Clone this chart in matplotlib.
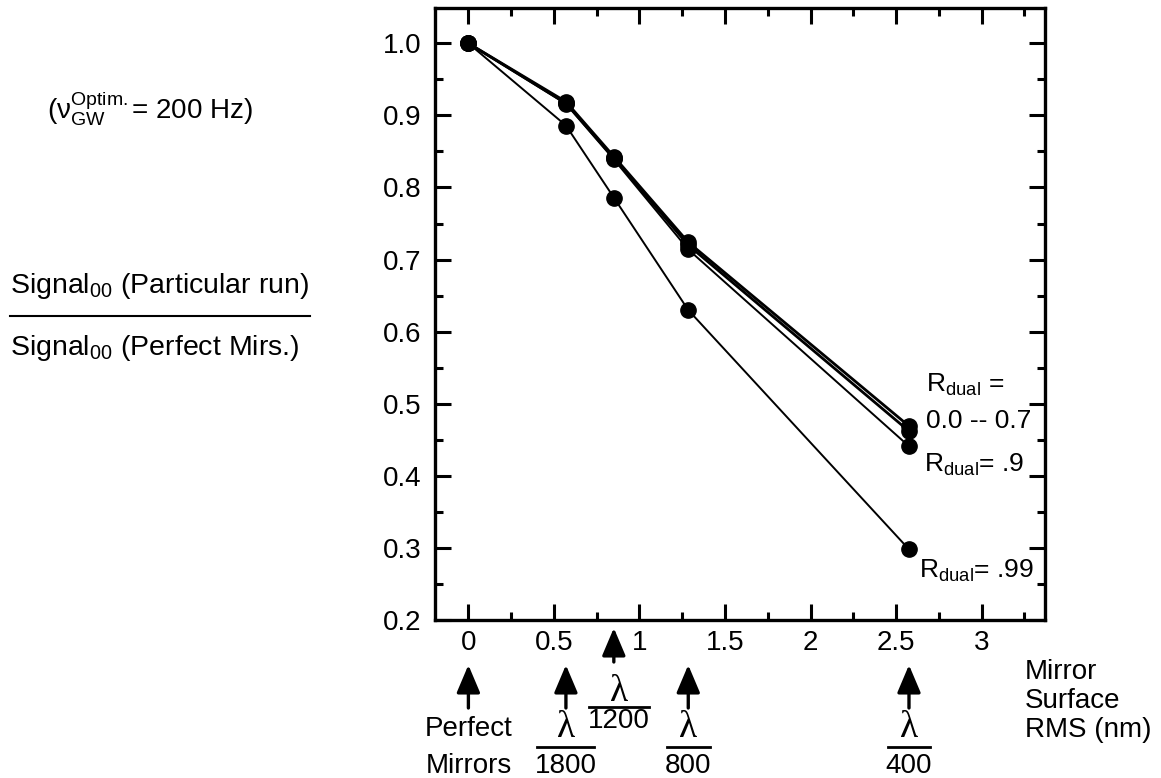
"""Signal ratio vs mirror surface RMS for several R_dual values."""
import matplotlib
matplotlib.use("Agg")
import matplotlib.pyplot as plt
from matplotlib import transforms
from matplotlib.ticker import MultipleLocator, FuncFormatter

plt.rcParams.update({
    "font.family": ["Liberation Sans", "DejaVu Sans"],
    "mathtext.fontset": "custom",
    "mathtext.rm": "Liberation Sans",
    "mathtext.it": "Liberation Sans:italic",
    "mathtext.bf": "Liberation Sans:bold",
})

# ---------------------------------------------------------------------------
# Data
# ---------------------------------------------------------------------------
rms_nm = [0.0, 0.57, 0.85, 1.285, 2.575]
signal_r00 = [1.0, 0.919, 0.843, 0.724, 0.469]
signal_r07 = [1.0, 0.917, 0.841, 0.720, 0.462]
signal_r09 = [1.0, 0.916, 0.839, 0.714, 0.441]
signal_r099 = [1.0, 0.886, 0.786, 0.630, 0.298]

arrow_labels = [("Perfect", "Mirrors"), ("1800",), ("1200",), ("800",), ("400",)]

FS = 20

fig = plt.figure(figsize=(11.61, 7.78), dpi=100)
ax = fig.add_axes([0.3747, 0.2031, 0.5254, 0.7866])

for ys, lw in [(signal_r00, 2.0), (signal_r07, 2.0), (signal_r09, 1.4), (signal_r099, 1.4)]:
    ax.plot(rms_nm, ys, color="black", lw=lw, marker="o", ms=11, clip_on=False)

ax.set_xlim(-0.195, 3.37)
ax.set_ylim(0.2, 1.049)
ax.xaxis.set_major_locator(MultipleLocator(0.5))
ax.xaxis.set_minor_locator(MultipleLocator(0.25))
ax.yaxis.set_major_locator(MultipleLocator(0.1))
ax.yaxis.set_minor_locator(MultipleLocator(0.05))
ax.xaxis.set_major_formatter(FuncFormatter(lambda v, p: f"{v:g}"))
ax.yaxis.set_major_formatter(FuncFormatter(lambda v, p: f"{v:.1f}"))
ax.tick_params(which="both", direction="in", top=True, right=True, width=2.2,
               labelsize=FS)
ax.tick_params(which="major", length=11.5)
ax.tick_params(which="minor", length=6)
ax.tick_params(axis="y", pad=10)
ax.tick_params(axis="x", pad=7)
for s in ax.spines.values():
    s.set_linewidth(2.4)

# curve labels
RFS = 19
ax.text(2.675, 0.516, r"R$_{\rm dual}$ =", fontsize=RFS, va="baseline")
ax.text(2.675, 0.466, "0.0 -- 0.7", fontsize=RFS, va="baseline")
ax.text(2.663, 0.405, r"R$_{\rm dual}$= .9", fontsize=RFS, va="baseline")
ax.text(2.634, 0.258, r"R$_{\rm dual}$= .99", fontsize=RFS, va="baseline")

# left-hand annotations (figure coords)
fig.text(0.0405, 0.8483, r"($\mathrm{ν}_{\rm GW}^{\rm Optim.}$= 200 Hz)",
         fontsize=FS, va="baseline")
fig.text(0.0086, 0.6234, r"Signal$_{\rm 00}$ (Particular run)", fontsize=FS + 0.5,
         va="baseline")
fig.add_artist(plt.Line2D([0.0086, 0.267], [0.5938, 0.5938], color="black",
                          lw=1.5, transform=fig.transFigure))
fig.text(0.0086, 0.5437, r"Signal$_{\rm 00}$ (Perfect Mirs.)", fontsize=FS + 0.5,
         va="baseline")

# arrows + wavelength fractions under the x axis
blend = transforms.blended_transform_factory(ax.transData, fig.transFigure)
W = 778.0


def fy(px):
    return 1 - px / W


def up_arrow(x, tip, tail):
    ax.annotate("", xy=(x, fy(tip)), xytext=(x, fy(tail)), xycoords=blend,
                textcoords=blend,
                arrowprops=dict(arrowstyle="-|>,head_length=0.85,head_width=0.36",
                                mutation_scale=20, lw=2.4, color="black",
                                shrinkA=0, shrinkB=0))


def lam_frac(x, y_lam, y_line, y_den, den, half):
    ax.text(x, fy(y_lam), "λ", transform=blend, ha="center", va="center",
            fontsize=27, family="Liberation Serif")
    ax.plot([x - half, x + half], [fy(y_line), fy(y_line)], color="black",
            lw=2, transform=blend, clip_on=False)
    ax.text(x, fy(y_den), den, transform=blend, ha="center", va="center",
            fontsize=FS)


x0, x1, x2, x3, x4 = rms_nm
up_arrow(x0, 665, 708)
ax.text(x0, fy(729), arrow_labels[0][0], transform=blend, ha="center",
        va="center", fontsize=FS)
ax.text(x0, fy(766), arrow_labels[0][1], transform=blend, ha="center",
        va="center", fontsize=FS)

up_arrow(x1, 665, 708)
lam_frac(x1, 728, 747, 766, arrow_labels[1][0], 0.167)

up_arrow(x2, 628, 662)
lam_frac(x2 + 0.03, 692, 707, 721, arrow_labels[2][0], 0.175)

up_arrow(x3, 665, 708)
lam_frac(x3, 728, 747, 766, arrow_labels[3][0], 0.125)

up_arrow(x4, 665, 708)
lam_frac(x4, 728, 747, 766, arrow_labels[4][0], 0.125)

for i, line in enumerate(["Mirror", "Surface", "RMS (nm)"]):
    fig.text(0.8829, fy(672 + 29 * i), line, fontsize=FS, va="center")

fig.savefig("out.png", dpi=100)
